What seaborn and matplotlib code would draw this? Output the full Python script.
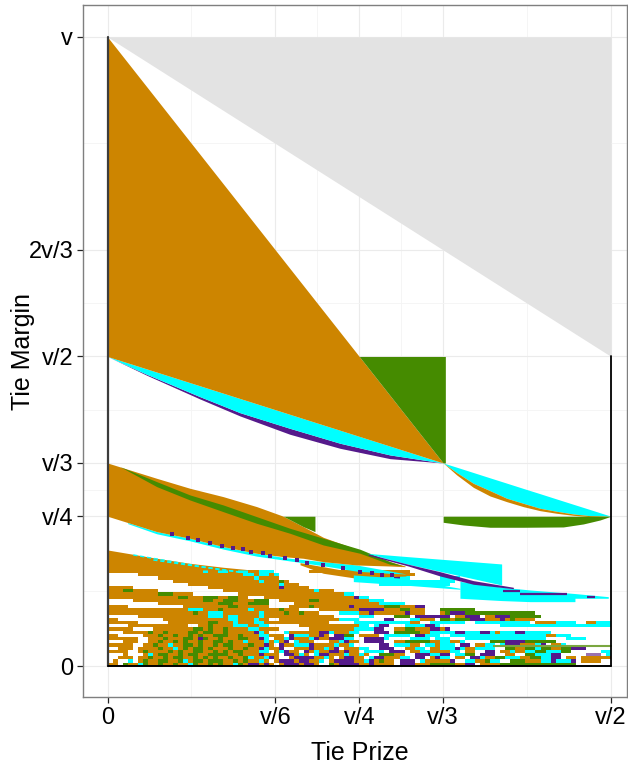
import numpy as np
import matplotlib
matplotlib.use('Agg')
import matplotlib.pyplot as plt
from matplotlib.colors import ListedColormap
import seaborn as sns

ORANGE = '#CD8500'
GREEN = '#458B00'
CYAN = '#00FFFF'
PURPLE = '#551A8B'
LAVENDER = '#9B72B0'
GREY = '#E3E3E3'

# axis breaks, in units of v
x_ticks = [0, 1/6, 1/4, 1/3, 1/2]
x_labels = ['0', 'v/6', 'v/4', 'v/3', 'v/2']
y_ticks = [0.0156, 1/4, 1/3, 1/2, 2/3, 1]
y_labels = ['0', 'v/4', 'v/3', 'v/2', '2v/3', 'v']
x_minor = [1/12, 5/24, 7/24, 5/12]
y_minor = [0.133, 7/24, 5/12, 7/12, 5/6]

# (x, lower, upper) regions
grey_x = [0, 0.5]
grey_lo = [1, 0.5]
grey_hi = [1, 1]

top_x = [0, 1/3]
top_lo = [0.5, 1/3]
top_hi = [1, 1/3]

square_x = [0.25, 1/3, 0.3355]
square_lo = [0.5, 1/3, 1/3]
square_hi = [0.5, 0.5, 0.5]

purple1_x = [0, 0.039, 0.0918, 0.1316, 0.181, 0.2309, 0.2805, 0.3333]
purple1_lo = [0.5, 0.4706, 0.4335, 0.4069, 0.3783, 0.3563, 0.3401, 0.3333]
purple1_hi = [0.5, 0.4721, 0.4371, 0.4120, 0.3876, 0.3642, 0.3459, 0.3333]
cyan1_hi = [0.5, 0.4805, 0.4541, 0.4342, 0.4095, 0.3846, 0.3598, 0.3333]

right_x = [1/3, 0.3468, 0.3633, 0.3798, 0.3964, 0.4129, 0.4295, 0.4460, 0.4626, 0.4791, 0.5]
right_brown_lo = [1/3, 0.3146, 0.2952, 0.2817, 0.2728, 0.2650, 0.2587, 0.2546, 0.2514, 0.2493, 0.25]
right_brown_hi = [1/3, 0.3182, 0.3015, 0.2900, 0.2781, 0.2702, 0.2624, 0.2577, 0.2535, 0.2509, 0.25]
right_cyan_hi = [1/3, 0.3267, 0.3184, 0.3101, 0.3018, 0.2935, 0.2853, 0.2770, 0.2687, 0.2605, 0.25]

lens_x = [1/3, 0.3533, 0.3798, 0.4129, 0.4526, 0.4725, 0.4891, 0.5]
lens_lo = [0.2405, 0.2363, 0.2327, 0.2327, 0.2332, 0.2379, 0.2441, 0.25]

band2_x = [0, 0.0489, 0.0819, 0.1150, 0.1482, 0.1746, 0.1944, 0.2143, 0.2474, 0.2805, 0.2955]
band2_hi = [1/3, 0.3093, 0.2937, 0.2806, 0.2650, 0.25, 0.2337, 0.2170, 0.1983, 0.1789, 0.1721]
band2_lo = [0.25, 0.2259, 0.2155, 0.2024, 0.1920, 0.1867, 0.1842, 0.1789, 0.1737, 0.1721, 0.1710]

stripe_x = [0.0124, 0.0489, 0.0819, 0.1150, 0.1482, 0.1812, 0.2143, 0.2508, 0.2805, 0.2922]
stripe_hi = [0.3276, 0.3041, 0.2833, 0.2676, 0.2493, 0.2311, 0.2155, 0.1983, 0.1789, 0.1727]
stripe_lo = [0.3276, 0.2963, 0.2754, 0.2571, 0.2389, 0.2233, 0.2050, 0.1920, 0.1748, 0.1727]

block_x = [0.1746, 0.1944, 0.2060]
block_lo = [0.25, 0.2337, 0.2259]
block_hi = [0.25, 0.25, 0.25]

edge_x = [0.02, 0.0489, 0.0819, 0.1150, 0.1482, 0.1812, 0.2143, 0.2474, 0.2955]
edge_hi = [0.2401, 0.2259, 0.2155, 0.2024, 0.1920, 0.1842, 0.1789, 0.1737, 0.1600]
edge_lo = [0.2385, 0.2225, 0.2115, 0.1985, 0.1875, 0.1800, 0.1725, 0.1640, 0.1590]

wedge_x = [0.1912, 0.2143, 0.2474, 0.2964]
wedge_hi = [0.1773, 0.1710, 0.1617, 0.1596]
wedge_lo = [0.1740, 0.1607, 0.1529, 0.1565]

thin_x = [0.2441, 0.2938, 0.35]
thin_hi = [0.1581, 0.1529, 0.1372]
thin_lo = [0.1477, 0.1424, 0.1357]

big_cyan_x = [0.2574, 0.2987, 0.3914]
big_cyan_hi = [0.1920, 0.1867, 0.1753]
big_cyan_lo = [0.1920, 0.1748, 0.1424]

purple2_x = [0.2590, 0.2987, 0.3302, 0.3633, 0.4030]
purple2_hi = [0.1910, 0.1748, 0.1632, 0.1492, 0.1388]
purple2_lo = [0.1890, 0.1721, 0.1565, 0.1435, 0.1366]

low_cyan_x = [0.35, 0.3914, 0.4196, 0.4642, 0.4642, 0.4973]
low_cyan_hi = [0.1480, 0.1390, 0.1346, 0.1290, 0.1290, 0.1241]
low_cyan_lo = [0.1216, 0.1180, 0.1163, 0.1163, 0.1216, 0.1216]

band3_x = [0, 0.0489, 0.0819, 0.1150, 0.1430]
band3_hi = [0.1972, 0.1842, 0.1763, 0.1701, 0.1659]
band3_lo = [0.1659, 0.1659, 0.1659, 0.1659, 0.1659]

fleck_a_x = [0.0256, 0.0900, 0.1430]
fleck_a_y = [0.1894, 0.1720, 0.1600]
fleck_b_x = [0.0455, 0.1000, 0.1430]
fleck_b_y = [0.1815, 0.1690, 0.1600]

dash_x = [0.0637, 0.0803, 0.0902, 0.1018, 0.1134, 0.1243, 0.1349, 0.1425, 0.1548, 0.1614,
          0.1763, 0.1878, 0.1978, 0.2143, 0.2342, 0.2507, 0.2623, 0.2722, 0.2822]
dash_y = [0.2222, 0.2165, 0.2128, 0.2086, 0.2040, 0.2008, 0.1983, 0.1946, 0.1920, 0.1882,
          0.1851, 0.1815, 0.1763, 0.1737, 0.1685, 0.1632, 0.1607, 0.1581, 0.1581]

seg_y = [0.1335, 0.1283, 0.1231]
seg_x0 = [0.3931, 0.4096, 0.4758]
seg_x1 = [0.4096, 0.4560, 0.4841]

# bottom rows, top row first, 0.005v cells: . empty, b orange, g green, c cyan, p purple, l lavender
cells_left = [
    "bbbbbbbbbbbbbbbbbbbcbbccbbccbbcc",
    "......bbbbbbbbbbbbbbbbbbbbbccbcc",
    "..........bbbbbbbbbbbbbbbbbbbcbb",
    ".............bbbbbbbbbbbbbbbbbcb",
    "................bbbbbbbbbbbbbbbb",
    "bbbbb...............bbbbbbbbbbbb",
    "bbbggbbbbb.............bbbbbbbbb",
    "bbbbbbbbbbgggbbbb.........bbbbbb",
    "bbbbbbbbbbbbbbggbbbgggbbggbb...b",
    ".....bbbbbbbbbbbbbbggbbgggbbbggg",
    "..........bbbbbbbbbbbbgggbbbgggg",
    "bbbb...........bbbbbbbbbggbbbbbb",
    "bbbbbbbbbbbbbbbbcccbbbgbbbbbcbbb",
    "bbbbbbbbbbbbbbbbbgbbcccbbbbbbbcb",
    "......bbbbbbbbbbbbbbcccbccbbbbcb",
    "bb.........bbbbbbbbbbbbbccbbbcbb",
    "bbbbbb......bbbbbbbbggbbbcbbbccb",
    "....bbbbbbbbbbbb..bbgbbbbcccbbcc",
    "bbbbb....bbbbbbbbggbgbbgbbbbccbb",
    "...bbbbbgbbgbbbbggbggbbgbbbbbpcb",
    "bb.....bbbgbbgbbgbgbbgggbbgbbbcc",
    "bbbbbb..bbbgbbbggbpgbbgbbbggbbpc",
    "...bbb..bbgbbgbgbbgbbggbgbbcbbbc",
    "bbbbb..bbgbbcbbggbgbbgbggbbbgbbp",
    "..bbb.bbbbgbbcbgbggbgbbbgbbgbbpc",
    "bbbb..bgbbbbgbgbbggbbgbgbggbbbcc",
    "...b...bcbggbbgbggbbggggbbgbbbpb",
    "..bbb.bbgbbgbggbbgbgbgbbgbbgcbbc",
    ".b..c.bgbbggbbgcbggbgggbbgbgbbcb",
    "bb.gbbcgbbgbbgbbcgbbgbgbbcgbppbp",
]
cells_mid = [
    "c.......bbbbbbbbbbbbbbbbbbbb",
    "bc............bbbbbbbbbbbbbbb",
    "bb................cccpcccpcc",
    "bbgb.................ccccccccccccc",
    "bbcbbb................cccccccccccc",
    "bbpbbbbb",
    "bbbbbbbbbcbbb",
    "bbbbbbbbbbbbbbbcc",
    "bbbbbbbbbbbbbbbbbpcc",
    "..bbbbbbggbbbbbbbbbbccc",
    ".....bbbbbbbbbbbbbbbbbccccc",
    "....bbbbgbbbbbbbpbbbbbbgggbbbpp",
    "bbgbbb....bbbbbbbbpppppbbbggbbb",
    "bbbgbbgbbb....ccccbbpbbbbbbpbbb",
    "bbbbbbbbbbbbb.....ccc....ggg.ppppp",
    "..bbbbbbbbbbbbcccc.....pp...ccbbb.",
    "bbbbbbbbbbbb.....cccccccccccbb..cc",
    "......bbbbbbbbbbbbcc.cpp...ccccppc",
    "bb......bbbbbbbbbccccpp..bbggbbbpp",
    "...cbbbbbbppcbbbcc...ppp.gggggbbcc",
    "bbb.pcccbbpb.ppgg.bbbb.ccccc.ppccc",
    ".bbcpbbbcpbbpppcc..ppppc....cccc.c",
    "bcbp.cbbb...bbcpbb.pppp..bbgggggbb",
    "b.pbbcccpbbbbcbbc.....pp.cccbb.ccb",
    "bbp..bbbpbbcbp.bbbcc..ppp..bbcc.bb",
    ".bcpbb.pbcbbppbpbb.cccc.ppp.bbccbb",
    "bb.ppbcb.cppbbbcbbcb..gggbb..pppcc",
    "pb..bppppbbcb.bppbb.cppbbbcc.pp.bp",
    ".bpppbppbbc.bppppbbcpbgbb.ppp.cbbb",
    "b.bpppbppb..gbppppbbpbbbb.pppbbbgg",
]
cells_right = [
    "",
    "",
    "cccc",
    "ccc",
    "cc",
    "",
    "",
    "",
    "",
    "",
    "",
    "",
    "ggggggg",
    "bgpppgggggggggggggg",
    "pp.bbppp.bbpppgggggg",
    "ggbgggpppbbbpbgbbbb",
    "ccccc..ccccccccccc.bbbbcccc..bbccc",
    "............cccccccccccccccccccccc",
    "bp",
    "cccppcccppcbcccppccccc",
    "..cccccccccccccccccccbbccc",
    "cc...cccccccccccccccc....cccc",
    "ccbbc.....gggppppgggggg",
    "ccc.pp.bbcc.cpppbbbcp.bbc",
    "cccpcbbcccc..ggbbggcggbbggppp",
    "bbcc.bb..pp.bbcbbccggcccgg......cc",
    "pp.ccgg.ppp..bb..ggcccpp.....lll.c",
    "cc.bb.ppcbbggcccbbggccpp.bb.bbbbbb",
    "bbp..ccbbgcc..gggbbbccpcccp.bbbb",
    "gggbbpp.bbbbggggggggggggggg",
]
code_map = {'.': np.nan, 'b': 0, 'g': 1, 'c': 2, 'p': 3, 'l': 4}

sns.set_style('whitegrid')
plt.rcParams['font.family'] = ['Liberation Sans', 'DejaVu Sans']

fig = plt.figure(figsize=(6.28, 7.69), dpi=100)
ax = fig.add_axes([83/628, 1 - 697/769, (627-83)/628, (697-5)/769])
ax.set_xlim((83-107.5)/1007, (627-107.5)/1007)
ax.set_ylim(-0.0329, 1.05)

# theme_bw look
for side in ax.spines.values():
    side.set_color('#7f7f7f')
    side.set_linewidth(1.0)
ax.set_axisbelow(True)
ax.grid(which='major', color='#ebebeb', lw=0.8)
ax.grid(which='minor', color='#f4f4f4', lw=0.6)
ax.set_xticks(x_ticks)
ax.set_xticklabels(x_labels)
ax.set_yticks(y_ticks)
ax.set_yticklabels(y_labels)
ax.set_xticks(x_minor, minor=True)
ax.set_yticks(y_minor, minor=True)
ax.tick_params(which='major', length=4, width=0.9, color='#222222', labelsize=17,
               labelcolor='black', pad=3, left=True, bottom=True)
ax.tick_params(which='minor', length=0)
ax.set_xlabel('Tie Prize', fontsize=18, color='black', va='center')
ax.set_ylabel('Tie Margin', fontsize=18, color='black', va='center')
ax.xaxis.set_label_coords(0.509, -0.081)
ax.yaxis.set_label_coords(-0.110, 0.5)


def fill(x, lo, hi, colour, z=2):
    ax.fill_between(x, lo, hi, color=colour, linewidth=0, zorder=z)


fill(grey_x, grey_lo, grey_hi, GREY)

# cells of the dense bottom part
n_cols = 100
cell_rows = [a.ljust(32, '.')[:32] + b.ljust(34, '.')[:34] + c.ljust(34, '.')[:34]
             for a, b, c in zip(cells_left, cells_mid, cells_right)]
cells = np.array([[code_map[ch] for ch in row] for row in cell_rows])
x_edges = np.arange(n_cols + 1) * 0.005
y_edges = 0.1659 - np.arange(len(cell_rows) + 1) * 0.005
ax.pcolormesh(x_edges, y_edges, np.ma.masked_invalid(cells), zorder=2,
              cmap=ListedColormap([ORANGE, GREEN, CYAN, PURPLE, LAVENDER]), vmin=-0.5, vmax=4.5)

fill(purple1_x, purple1_lo, purple1_hi, PURPLE, 3)
fill(purple1_x, purple1_hi, cyan1_hi, CYAN, 3)
fill(top_x, top_lo, top_hi, ORANGE, 3)
fill(square_x, square_lo, square_hi, GREEN, 3)

fill(right_x, right_brown_hi, right_cyan_hi, CYAN, 3)
fill(right_x, right_brown_lo, right_brown_hi, ORANGE, 3)
fill(lens_x, lens_lo, [0.25] * len(lens_x), GREEN, 3)

fill(band3_x, band3_lo, band3_hi, ORANGE, 3)
ax.plot(fleck_a_x, fleck_a_y, color=CYAN, lw=1.0, ls=(0, (3, 2)), zorder=3)
ax.plot(fleck_b_x, fleck_b_y, color=CYAN, lw=1.0, ls=(0, (3, 2)), zorder=3)

fill(edge_x, edge_lo, edge_hi, CYAN, 3)
fill(wedge_x, wedge_lo, wedge_hi, ORANGE, 3)
fill(thin_x, thin_lo, thin_hi, CYAN, 3)
fill(band2_x, band2_lo, band2_hi, ORANGE, 3)
fill(stripe_x, stripe_lo, stripe_hi, GREEN, 3)
fill(block_x, block_lo, block_hi, GREEN, 3)

fill(big_cyan_x, big_cyan_lo, big_cyan_hi, CYAN, 3)
fill(low_cyan_x, low_cyan_lo, low_cyan_hi, CYAN, 3)
fill(purple2_x, purple2_lo, purple2_hi, PURPLE, 4)
ax.hlines(seg_y, seg_x0, seg_x1, color=PURPLE, lw=1.6, zorder=4)
sns.scatterplot(x=dash_x, y=dash_y, marker='s', s=5, color=PURPLE, linewidth=0, ax=ax, zorder=4)

# pale green row and the frame of the region
ax.hlines([0.0474], [0.3831], [0.501], color='#7aa63f', lw=1.5, zorder=4)
ax.plot([0, 0], [1, 0.0156], color='#3c3c3c', lw=1.6, zorder=5)
ax.plot([0, 0.5], [0.0156, 0.0156], color='black', lw=1.4, zorder=5)
ax.plot([0.5, 0.5], [0.5, 0.0156], color='black', lw=1.3, zorder=5)

fig.savefig('out.png', dpi=100)
